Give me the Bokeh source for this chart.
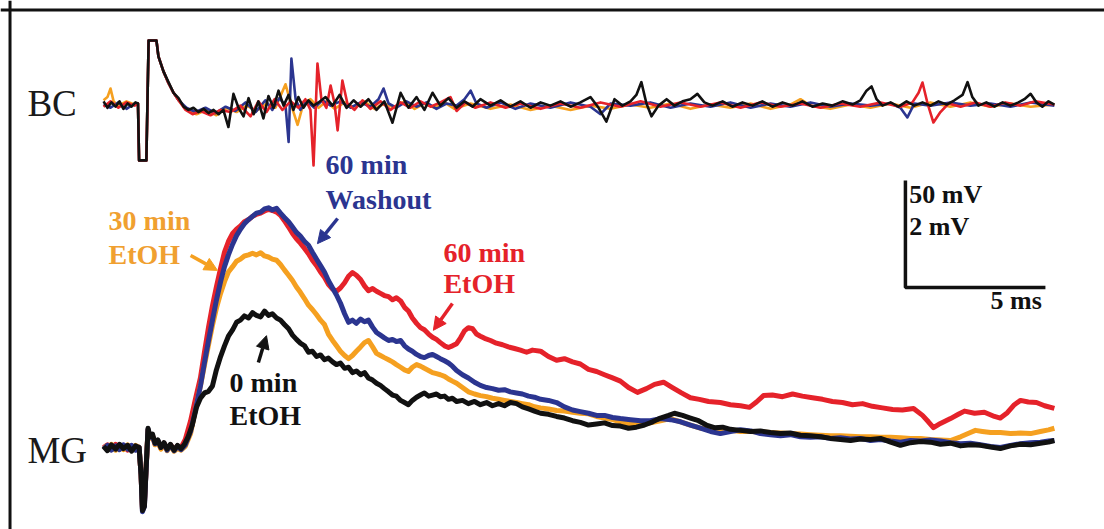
from bokeh.plotting import figure
from bokeh.models import Range1d, Span, Arrow, NormalHead
from bokeh.core.properties import value
from bokeh.embed import file_html
from bokeh.resources import INLINE

# ---------------- data: time (ms, stimulus at 0) and voltage ----------------
# MG field potentials (mV)
mg_black = [(-1.32, 0.02), (-1.18, -0.06), (-1.04, 0.05), (-0.89, -0.03), (-0.75, 0.06), (-0.61, -0.02),
            (-0.46, 0.04), (-0.32, -0.07), (-0.18, 0.03), (-0.05, 0.0), (0.02, -0.5), (0.07, -1.18),
            (0.14, -1.1), (0.2, -0.4), (0.27, 0.36), (0.34, 0.2), (0.43, 0.25), (0.52, 0.08), (0.62, 0.14),
            (0.73, 0.0), (0.84, 0.09), (0.95, -0.03), (1.07, 0.06), (1.2, -0.05), (1.32, 0.04), (1.45, -0.02),
            (1.57, 0.06), (1.7, 0.2), (1.85, 0.42), (2.0, 0.75), (2.14, 0.92), (2.29, 1.02), (2.43, 1.05),
            (2.57, 1.15), (2.71, 1.45), (2.86, 1.7), (3.0, 1.9), (3.14, 2.08), (3.29, 2.2), (3.43, 2.34),
            (3.57, 2.38), (3.71, 2.46), (3.86, 2.42), (4.0, 2.52), (4.14, 2.47), (4.29, 2.44), (4.43, 2.55),
            (4.57, 2.47), (4.71, 2.5), (4.86, 2.42), (5.0, 2.38), (5.14, 2.3), (5.29, 2.22), (5.43, 2.1),
            (5.57, 2.02), (5.71, 1.95), (5.86, 1.9), (6.0, 1.78), (6.14, 1.8), (6.29, 1.7), (6.43, 1.73),
            (6.57, 1.64), (6.71, 1.67), (6.86, 1.6), (7.0, 1.55), (7.14, 1.58), (7.29, 1.48), (7.43, 1.5),
            (7.57, 1.4), (7.71, 1.43), (7.86, 1.36), (8.0, 1.4), (8.14, 1.3), (8.29, 1.26), (8.43, 1.2),
            (8.57, 1.16), (8.71, 1.1), (8.86, 1.04), (9.0, 0.98), (9.14, 0.96), (9.29, 0.88), (9.43, 0.84),
            (9.57, 0.8), (9.71, 0.88), (9.86, 0.94), (10.0, 0.98), (10.14, 1.02), (10.29, 0.96), (10.43, 0.98),
            (10.57, 1.0), (10.71, 0.95), (10.86, 0.96), (11.0, 0.9), (11.14, 0.92), (11.29, 0.86), (11.5, 0.88),
            (11.71, 0.82), (11.93, 0.86), (12.14, 0.8), (12.36, 0.84), (12.57, 0.78), (12.79, 0.82), (13.0, 0.78),
            (13.21, 0.84), (13.43, 0.82), (13.64, 0.76), (13.86, 0.72), (14.07, 0.68), (14.29, 0.64),
            (14.57, 0.62), (14.86, 0.58), (15.14, 0.55), (15.43, 0.5), (15.71, 0.47), (16.0, 0.42),
            (16.29, 0.44), (16.57, 0.46), (16.86, 0.41), (17.14, 0.4), (17.43, 0.36), (17.71, 0.38), (18.0, 0.42),
            (18.29, 0.48), (18.57, 0.55), (18.86, 0.6), (19.07, 0.64), (19.36, 0.6), (19.64, 0.55), (19.93, 0.5),
            (20.21, 0.42), (20.5, 0.37), (20.79, 0.38), (21.07, 0.34), (21.43, 0.32), (21.79, 0.3), (22.14, 0.31),
            (22.5, 0.28), (22.86, 0.26), (23.21, 0.27), (23.57, 0.23), (23.93, 0.22), (24.29, 0.2), (24.64, 0.17),
            (25.0, 0.15), (25.36, 0.13), (25.71, 0.16), (26.07, 0.15), (26.43, 0.17), (26.79, 0.1), (27.14, 0.04),
            (27.5, 0.09), (27.86, 0.11), (28.21, 0.1), (28.57, 0.06), (28.93, 0.08), (29.29, 0.03), (29.64, 0.05),
            (30.0, 0.04), (30.36, 0.01), (30.71, -0.02), (31.07, 0.03), (31.43, 0.06), (31.79, 0.05), (32.14, 0.08),
            (32.43, 0.1), (32.64, 0.13)]

mg_red = [(-1.32, 0.0), (-1.18, 0.05), (-1.04, -0.04), (-0.89, 0.06), (-0.75, -0.03), (-0.61, 0.04),
          (-0.46, -0.05), (-0.32, 0.03), (-0.18, -0.04), (-0.05, 0.0), (0.02, -0.5), (0.07, -1.15), (0.14, -1.05),
          (0.2, -0.4), (0.27, 0.33), (0.34, 0.18), (0.43, 0.22), (0.52, 0.06), (0.62, 0.12), (0.73, -0.02),
          (0.84, 0.08), (0.95, -0.04), (1.07, 0.05), (1.2, -0.04), (1.32, 0.03), (1.45, 0.0), (1.6, 0.15),
          (1.79, 0.5), (1.96, 0.9), (2.14, 1.3), (2.29, 1.8), (2.43, 2.25), (2.57, 2.65), (2.71, 3.0),
          (2.86, 3.35), (3.0, 3.65), (3.14, 3.85), (3.29, 4.0), (3.43, 4.08), (3.57, 4.14), (3.71, 4.22),
          (3.86, 4.26), (4.0, 4.32), (4.14, 4.36), (4.29, 4.38), (4.43, 4.42), (4.57, 4.45), (4.71, 4.43),
          (4.86, 4.4), (5.0, 4.34), (5.14, 4.24), (5.29, 4.12), (5.43, 4.0), (5.57, 3.9), (5.71, 3.82),
          (5.86, 3.72), (6.0, 3.62), (6.14, 3.5), (6.29, 3.4), (6.43, 3.28), (6.57, 3.18), (6.71, 3.05),
          (6.86, 2.96), (7.0, 2.92), (7.14, 2.98), (7.29, 3.08), (7.43, 3.2), (7.57, 3.27), (7.71, 3.22),
          (7.86, 3.14), (8.0, 3.02), (8.14, 2.93), (8.29, 2.97), (8.43, 2.92), (8.57, 2.88), (8.71, 2.84),
          (8.86, 2.82), (9.0, 2.76), (9.14, 2.8), (9.29, 2.74), (9.43, 2.62), (9.57, 2.55), (9.71, 2.42),
          (9.86, 2.32), (10.0, 2.24), (10.14, 2.2), (10.29, 2.12), (10.43, 2.06), (10.57, 2.02), (10.71, 1.96),
          (10.86, 1.9), (11.0, 1.87), (11.14, 1.9), (11.29, 1.94), (11.43, 2.05), (11.57, 2.18), (11.71, 2.24),
          (11.86, 2.22), (12.0, 2.12), (12.14, 2.08), (12.29, 2.04), (12.5, 2.0), (12.71, 1.95), (12.93, 1.92),
          (13.14, 1.88), (13.36, 1.85), (13.57, 1.82), (13.79, 1.78), (14.0, 1.82), (14.29, 1.8), (14.57, 1.7),
          (14.86, 1.63), (15.14, 1.66), (15.43, 1.6), (15.71, 1.56), (16.0, 1.46), (16.29, 1.42), (16.57, 1.36),
          (16.86, 1.3), (17.14, 1.24), (17.43, 1.12), (17.75, 1.03), (18.07, 1.1), (18.36, 1.18), (18.68, 1.22),
          (19.0, 1.12), (19.32, 1.02), (19.64, 0.93), (19.96, 0.9), (20.29, 0.86), (20.71, 0.84), (21.07, 0.8),
          (21.43, 0.78), (21.75, 0.75), (22.0, 0.85), (22.25, 0.97), (22.57, 0.98), (22.93, 0.95), (23.29, 1.0),
          (23.64, 0.96), (24.0, 0.93), (24.36, 0.9), (24.71, 0.86), (25.07, 0.84), (25.43, 0.8), (25.79, 0.82),
          (26.14, 0.77), (26.5, 0.74), (26.86, 0.71), (27.21, 0.7), (27.61, 0.73), (27.93, 0.6), (28.14, 0.48),
          (28.32, 0.37), (28.57, 0.45), (28.93, 0.54), (29.21, 0.62), (29.43, 0.68), (29.79, 0.64), (30.14, 0.66),
          (30.5, 0.58), (30.71, 0.55), (30.96, 0.65), (31.21, 0.8), (31.43, 0.88), (31.71, 0.85), (32.0, 0.84),
          (32.29, 0.78), (32.64, 0.73)]

mg_blue = [(-1.32, -0.03), (-1.18, 0.04), (-1.04, -0.05), (-0.89, 0.03), (-0.75, -0.04), (-0.61, 0.05),
           (-0.46, -0.03), (-0.32, 0.04), (-0.18, -0.05), (-0.05, 0.0), (0.02, -0.5), (0.07, -1.2), (0.14, -1.1),
           (0.2, -0.42), (0.27, 0.34), (0.34, 0.19), (0.43, 0.2), (0.52, 0.07), (0.62, 0.13), (0.73, 0.0),
           (0.84, 0.07), (0.95, -0.05), (1.07, 0.04), (1.2, -0.06), (1.32, 0.02), (1.45, -0.04), (1.6, 0.05),
           (1.79, 0.3), (1.96, 0.7), (2.14, 1.15), (2.29, 1.6), (2.43, 2.0), (2.57, 2.38), (2.71, 2.75),
           (2.86, 3.1), (3.0, 3.38), (3.14, 3.6), (3.29, 3.8), (3.43, 3.96), (3.57, 4.08), (3.71, 4.18),
           (3.86, 4.26), (4.0, 4.32), (4.14, 4.38), (4.29, 4.4), (4.43, 4.46), (4.57, 4.48), (4.71, 4.44),
           (4.86, 4.47), (5.0, 4.38), (5.14, 4.3), (5.29, 4.22), (5.43, 4.12), (5.57, 4.02), (5.71, 3.95),
           (5.86, 3.85), (6.0, 3.78), (6.14, 3.65), (6.29, 3.52), (6.43, 3.4), (6.57, 3.28), (6.71, 3.12),
           (6.86, 2.98), (7.0, 2.85), (7.14, 2.7), (7.29, 2.5), (7.43, 2.34), (7.57, 2.38), (7.71, 2.32),
           (7.86, 2.4), (8.0, 2.35), (8.14, 2.38), (8.29, 2.25), (8.43, 2.15), (8.57, 2.1), (8.71, 2.05),
           (8.86, 2.0), (9.0, 2.02), (9.14, 1.98), (9.29, 2.0), (9.43, 1.9), (9.57, 1.84), (9.71, 1.8),
           (9.86, 1.74), (10.0, 1.7), (10.14, 1.68), (10.29, 1.72), (10.43, 1.74), (10.57, 1.7), (10.71, 1.66),
           (10.86, 1.62), (11.0, 1.58), (11.14, 1.52), (11.29, 1.44), (11.5, 1.36), (11.71, 1.3), (11.93, 1.22),
           (12.14, 1.16), (12.36, 1.12), (12.57, 1.1), (12.79, 1.07), (13.0, 1.08), (13.21, 1.04), (13.43, 1.02),
           (13.64, 1.0), (13.86, 0.96), (14.07, 0.94), (14.29, 0.9), (14.57, 0.88), (14.86, 0.84), (15.14, 0.76),
           (15.43, 0.7), (15.71, 0.67), (16.0, 0.64), (16.29, 0.6), (16.57, 0.6), (16.86, 0.56), (17.14, 0.54),
           (17.5, 0.52), (17.86, 0.5), (18.21, 0.5), (18.57, 0.54), (18.93, 0.52), (19.29, 0.48), (19.64, 0.42),
           (20.0, 0.36), (20.36, 0.3), (20.71, 0.26), (21.07, 0.3), (21.43, 0.33), (21.79, 0.31), (22.14, 0.26),
           (22.5, 0.24), (22.86, 0.22), (23.21, 0.24), (23.57, 0.2), (23.93, 0.19), (24.29, 0.2), (24.64, 0.17),
           (25.0, 0.18), (25.36, 0.16), (25.71, 0.17), (26.07, 0.13), (26.43, 0.15), (26.79, 0.12), (27.14, 0.1),
           (27.5, 0.13), (27.86, 0.12), (28.21, 0.14), (28.57, 0.12), (28.93, 0.09), (29.29, 0.07), (29.64, 0.08),
           (30.0, 0.05), (30.36, 0.02), (30.71, 0.0), (31.07, 0.04), (31.43, 0.07), (31.79, 0.09), (32.14, 0.1),
           (32.43, 0.12), (32.64, 0.13)]

mg_orange = [(-1.32, 0.04), (-1.18, -0.03), (-1.04, 0.06), (-0.89, -0.05), (-0.75, 0.02), (-0.61, -0.04),
             (-0.46, 0.05), (-0.32, -0.02), (-0.18, 0.04), (-0.05, 0.0), (0.02, -0.5), (0.07, -1.12), (0.14, -1.0),
             (0.2, -0.38), (0.27, 0.32), (0.34, 0.17), (0.43, 0.21), (0.52, 0.05), (0.62, 0.1), (0.73, -0.03),
             (0.84, 0.06), (0.95, -0.06), (1.07, 0.03), (1.2, -0.07), (1.32, -0.02), (1.45, -0.05), (1.6, 0.02),
             (1.79, 0.26), (1.96, 0.7), (2.14, 1.15), (2.29, 1.55), (2.43, 1.92), (2.57, 2.28), (2.71, 2.6),
             (2.86, 2.88), (3.0, 3.1), (3.14, 3.28), (3.29, 3.38), (3.43, 3.48), (3.57, 3.52), (3.71, 3.58),
             (3.86, 3.6), (4.0, 3.63), (4.14, 3.6), (4.29, 3.64), (4.43, 3.58), (4.57, 3.56), (4.71, 3.52),
             (4.86, 3.5), (5.0, 3.42), (5.14, 3.32), (5.29, 3.22), (5.43, 3.12), (5.57, 3.0), (5.71, 2.9),
             (5.86, 2.78), (6.0, 2.66), (6.14, 2.58), (6.29, 2.48), (6.43, 2.38), (6.57, 2.3), (6.71, 2.12),
             (6.86, 2.0), (7.0, 1.9), (7.14, 1.8), (7.29, 1.72), (7.43, 1.66), (7.57, 1.72), (7.71, 1.8),
             (7.86, 1.88), (8.0, 1.96), (8.14, 2.0), (8.29, 1.88), (8.43, 1.76), (8.57, 1.72), (8.71, 1.68),
             (8.86, 1.64), (9.0, 1.6), (9.14, 1.55), (9.29, 1.5), (9.43, 1.45), (9.57, 1.42), (9.71, 1.5),
             (9.86, 1.55), (10.0, 1.52), (10.14, 1.48), (10.29, 1.44), (10.43, 1.4), (10.57, 1.38), (10.71, 1.36),
             (10.86, 1.33), (11.0, 1.28), (11.14, 1.24), (11.29, 1.2), (11.5, 1.12), (11.71, 1.04), (11.93, 1.0),
             (12.14, 0.97), (12.36, 0.95), (12.57, 0.92), (12.79, 0.9), (13.0, 0.88), (13.21, 0.86), (13.43, 0.84),
             (13.64, 0.82), (13.86, 0.8), (14.07, 0.76), (14.29, 0.74), (14.57, 0.72), (14.86, 0.69), (15.14, 0.68),
             (15.43, 0.66), (15.71, 0.64), (16.0, 0.63), (16.29, 0.58), (16.57, 0.55), (16.86, 0.52), (17.14, 0.48),
             (17.5, 0.44), (17.86, 0.42), (18.21, 0.46), (18.57, 0.5), (18.93, 0.54), (19.29, 0.48), (19.64, 0.42),
             (20.0, 0.36), (20.36, 0.34), (20.71, 0.33), (21.07, 0.32), (21.43, 0.3), (21.79, 0.3), (22.14, 0.29),
             (22.5, 0.28), (22.86, 0.27), (23.21, 0.26), (23.57, 0.25), (23.93, 0.24), (24.29, 0.23), (24.64, 0.22),
             (25.0, 0.22), (25.36, 0.21), (25.71, 0.2), (26.07, 0.2), (26.43, 0.19), (26.79, 0.19), (27.14, 0.18),
             (27.5, 0.17), (27.86, 0.17), (28.21, 0.15), (28.57, 0.14), (28.93, 0.13), (29.29, 0.2), (29.64, 0.28),
             (29.82, 0.32), (30.07, 0.3), (30.36, 0.28), (30.71, 0.28), (31.07, 0.26), (31.43, 0.27), (31.79, 0.26),
             (32.14, 0.3), (32.43, 0.33), (32.64, 0.36)]

# BC recordings (mV)
bc_black = [(-1.32, 1.0), (-1.18, -2.0), (-1.04, 0.5), (-0.89, -1.5), (-0.75, 1.0), (-0.61, -2.5), (-0.46, 0.0),
            (-0.32, -1.5), (-0.18, 0.5), (-0.09, 0.0), (-0.05, -26.6), (0.21, -26.6), (0.29, 29.4), (0.57, 29.4),
            (0.64, 22.0), (0.82, 15.0), (1.0, 10.0), (1.18, 5.0), (1.36, 2.5), (1.54, -1.5), (1.71, -3.0),
            (1.89, -2.0), (2.07, -4.0), (2.25, -2.5), (2.43, -4.5), (2.61, -3.0), (2.79, -5.0), (2.96, -3.0),
            (3.14, -11.0), (3.32, 4.5), (3.5, -2.0), (3.68, -6.0), (3.86, 2.5), (4.04, -5.0), (4.21, 1.0),
            (4.39, -7.0), (4.57, 3.5), (4.75, -2.0), (4.93, 6.0), (5.11, -1.0), (5.29, 4.0), (5.46, -3.0),
            (5.64, 3.0), (5.82, -2.0), (6.0, 1.5), (6.18, -1.0), (6.36, 0.5), (6.61, 3.0), (6.86, -1.0),
            (7.11, 4.0), (7.36, -2.0), (7.61, 1.5), (7.86, -1.5), (8.14, 2.0), (8.43, -3.0), (8.71, 1.0),
            (9.0, -9.0), (9.29, 5.0), (9.57, -2.0), (9.86, 3.0), (10.14, -3.0), (10.43, 5.0), (10.71, -1.0),
            (11.0, 2.5), (11.29, -2.0), (11.57, 1.0), (11.86, -1.5), (12.14, 2.0), (12.5, -1.0), (12.86, 1.5),
            (13.21, -1.5), (13.57, 1.0), (13.93, -2.0), (14.29, 0.5), (14.64, -1.0), (15.0, 1.0), (15.36, -1.5),
            (15.71, 0.5), (16.07, 3.0), (16.36, -2.0), (16.64, -8.5), (16.93, 2.0), (17.21, -1.0), (17.5, 1.0),
            (17.71, 4.0), (17.89, 10.0), (18.07, 0.0), (18.25, -6.0), (18.5, -1.0), (18.79, 2.0), (19.07, -1.0),
            (19.36, 1.0), (19.64, 2.0), (19.89, 4.5), (20.14, 0.5), (20.43, -1.0), (20.79, 1.0), (21.14, -1.5),
            (21.5, 0.5), (21.86, -1.0), (22.21, 1.0), (22.57, -1.5), (22.93, 0.5), (23.29, -1.0), (23.64, 1.0),
            (24.0, -1.5), (24.36, 0.0), (24.71, -1.0), (25.07, 1.0), (25.43, -0.5), (25.71, 1.5), (25.93, 6.0),
            (26.11, 8.0), (26.29, 2.0), (26.5, -1.0), (26.79, 0.5), (27.07, -1.5), (27.36, 1.0), (27.64, -1.0),
            (27.93, 0.5), (28.21, -1.0), (28.5, 1.0), (28.79, -0.5), (29.07, 1.5), (29.36, 4.0), (29.54, 10.0),
            (29.71, 3.0), (29.93, -1.0), (30.21, 0.5), (30.5, -1.5), (30.79, 0.5), (31.07, -1.0), (31.36, 0.5),
            (31.57, 2.0), (31.79, 4.5), (32.0, 0.5), (32.21, -1.5), (32.43, 1.0), (32.64, -0.5)]

bc_red = [(-1.32, -1.5), (-1.07, 1.0), (-0.79, -2.0), (-0.5, 0.5), (-0.21, -1.0), (-0.09, 0.0), (-0.05, -26.6),
          (0.21, -26.6), (0.29, 29.4), (0.57, 29.4), (0.64, 22.0), (0.82, 15.0), (1.0, 9.5), (1.18, 5.0),
          (1.36, 1.5), (1.61, -3.0), (1.86, -5.0), (2.14, -3.5), (2.5, -5.5), (2.86, -3.0), (3.21, -4.0),
          (3.57, -1.0), (3.93, -6.0), (4.21, 1.0), (4.5, -4.0), (4.79, 2.0), (5.07, -3.0), (5.36, 1.0),
          (5.64, -2.0), (5.89, 2.0), (6.07, -3.0), (6.18, -29.0), (6.32, 18.7), (6.46, 2.0), (6.64, -2.0),
          (6.79, 8.4), (6.93, 0.0), (7.04, -12.6), (7.21, 10.7), (7.39, 0.0), (7.64, -3.0), (7.93, 1.5),
          (8.21, -2.5), (8.57, 1.0), (8.93, -3.0), (9.29, 0.5), (9.64, -2.0), (10.0, 1.0), (10.36, -1.5),
          (10.71, 0.5), (11.07, 3.0), (11.29, -3.5), (11.61, 0.5), (11.96, -2.0), (12.5, 0.5), (13.04, -2.0),
          (13.57, 0.0), (14.29, -2.5), (15.0, 0.0), (15.71, -2.0), (16.43, 0.5), (17.14, -1.5), (17.86, 1.0),
          (18.57, -1.5), (19.29, 0.5), (20.0, -1.5), (20.71, 0.5), (21.43, -2.0), (22.14, 0.5), (22.86, -1.5),
          (23.57, 0.0), (24.29, -2.0), (25.0, 0.0), (25.71, -1.5), (26.43, 0.5), (27.14, -1.5), (27.57, 0.5),
          (27.79, 5.0), (27.93, 9.8), (28.11, 0.0), (28.32, -8.9), (28.57, -4.0), (28.86, 0.0), (29.29, -1.5),
          (29.82, 0.5), (30.36, -1.5), (30.89, 0.5), (31.43, -1.0), (31.96, 1.0), (32.64, -0.5)]

bc_blue = [(-1.32, -0.5), (-1.07, -2.0), (-0.79, 0.5), (-0.5, -2.5), (-0.21, 0.0), (-0.09, 0.0), (-0.05, -26.6),
           (0.21, -26.6), (0.29, 29.4), (0.57, 29.4), (0.64, 22.0), (0.82, 15.0), (1.0, 9.5), (1.18, 5.0),
           (1.36, 1.5), (1.64, -2.0), (1.96, -4.0), (2.32, -2.0), (2.68, -4.5), (3.04, -1.5), (3.39, -3.5),
           (3.75, 0.5), (4.11, -4.0), (4.46, 1.5), (4.71, -3.0), (4.96, 2.5), (5.18, -1.0), (5.29, -18.0),
           (5.39, 21.0), (5.54, 2.0), (5.71, -3.0), (5.93, 1.0), (6.21, -2.0), (6.5, 1.5), (6.79, -1.0),
           (7.14, 1.0), (7.5, -2.0), (7.86, 0.5), (8.21, -1.5), (8.5, 2.0), (8.68, 7.0), (8.86, 0.0),
           (9.14, -2.0), (9.5, 1.0), (9.86, -1.5), (10.21, 0.5), (10.57, -2.5), (10.93, 0.0), (11.29, -1.0),
           (11.57, 2.0), (11.79, 6.0), (12.0, 0.0), (12.36, -2.0), (12.86, 0.5), (13.39, -2.5), (13.93, 0.0),
           (14.64, -2.0), (15.36, 0.5), (16.07, -1.5), (16.43, -5.0), (16.79, 0.0), (17.5, -1.0), (18.21, 0.5),
           (18.93, -2.0), (19.64, 0.0), (20.36, -1.5), (21.07, 0.5), (21.79, -2.0), (22.5, 0.0), (23.21, -1.5),
           (23.93, 0.5), (24.64, -1.5), (25.36, 0.0), (26.07, -1.0), (26.79, 0.0), (27.14, -2.0), (27.39, -6.5),
           (27.64, 0.0), (28.21, -1.0), (28.93, 0.5), (29.64, -1.0), (30.36, 0.0), (31.07, -1.5), (31.79, 0.5),
           (32.64, -1.0)]

bc_orange = [(-1.32, 1.5), (-1.18, 3.0), (-1.07, 7.0), (-0.96, 1.0), (-0.79, -1.0), (-0.5, 1.0), (-0.21, -0.5),
             (-0.09, 0.0), (-0.05, -26.6), (0.21, -26.6), (0.29, 29.4), (0.57, 29.4), (0.64, 22.0), (0.82, 15.0),
             (1.0, 9.5), (1.18, 5.0), (1.36, 1.5), (1.64, -3.0), (2.0, -5.0), (2.36, -3.0), (2.71, -5.5),
             (3.07, -2.0), (3.43, -4.0), (3.79, -1.0), (4.14, -3.5), (4.5, 0.0), (4.82, -2.0), (5.18, 9.0),
             (5.39, -1.0), (5.61, -10.0), (5.82, 0.0), (6.07, 2.0), (6.36, -2.0), (6.64, 1.0), (6.93, -2.5),
             (7.29, 0.5), (7.64, -2.0), (8.0, 1.0), (8.36, -2.5), (8.71, 0.0), (9.07, -2.0), (9.43, 1.0),
             (9.79, -2.5), (10.14, 0.0), (10.5, -2.0), (10.86, 0.5), (11.21, -2.5), (11.79, 0.0), (12.5, -2.5),
             (13.21, -0.5), (13.93, -3.0), (14.64, -1.0), (15.36, -3.0), (16.07, -1.0), (16.79, -2.5), (17.5, -0.5),
             (18.21, -2.0), (18.93, 0.0), (19.64, -2.5), (20.36, -0.5), (21.07, -2.0), (21.79, 0.0), (22.5, -2.5),
             (23.21, -0.5), (23.57, 2.0), (23.93, -1.0), (24.64, -2.5), (25.36, -0.5), (26.07, -2.0), (26.79, 0.0),
             (27.5, -2.0), (28.21, 0.5), (28.93, -1.5), (29.64, 0.5), (30.36, -1.5), (31.07, 0.0), (31.79, -1.5),
             (32.64, -0.5)]

# scale bar: 50 mV (BC) / 2 mV (MG) vertical, 5 ms horizontal
scale_ms = 5
scale_mg_mv = 2
scale_bc_mv = 50
bc_offset_mv = 6.43          # vertical offset of the BC row, in MG mV units

colors = {"black": "#111111", "red": "#e5222a", "blue": "#2b3590", "orange": "#f5a020"}

# ---------------- figure ----------------
x0, x1 = -5.0, 34.43
y0, y1 = -1.533, 8.355
p = figure(width=1104, height=529, x_range=Range1d(x0, x1), y_range=Range1d(y0, y1),
           output_backend="svg", toolbar_location=None, min_border=0,
           x_axis_location=None, y_axis_location=None)
p.grid.visible = False
p.outline_line_color = None
p.background_fill_color = "white"
p.border_fill_color = "white"

# frame lines (top and left) of the figure panel
p.add_layout(Span(location=8.178, dimension="width", line_color="#111111", line_width=3))
p.add_layout(Span(location=-4.66, dimension="height", line_color="#111111", line_width=3))

bc_gain = scale_mg_mv / scale_bc_mv

def bc_xy(pairs):
    xs = [a for a, b in pairs]
    ys = [bc_offset_mv + b * bc_gain for a, b in pairs]
    return xs, ys

def mg_xy(pairs):
    return [a for a, b in pairs], [b for a, b in pairs]

# BC traces
for name, tr in [("orange", bc_orange), ("blue", bc_blue), ("red", bc_red), ("black", bc_black)]:
    xs, ys = bc_xy(tr)
    p.line(xs, ys, line_color=colors[name], line_width=2.6, line_join="round")

# MG traces
for name, tr in [("red", mg_red), ("orange", mg_orange), ("blue", mg_blue), ("black", mg_black)]:
    xs, ys = mg_xy(tr)
    p.line(xs, ys, line_color=colors[name], line_width=5, line_join="round")

# scale bar
bar_t, bar_v = 27.32, 2.99
p.line([bar_t, bar_t, bar_t + scale_ms], [bar_v + scale_mg_mv, bar_v, bar_v],
       line_color="#111111", line_width=3.5)

serif = value("Liberation Serif")

def label(x, y, txt, color, size="28px", style="bold"):
    p.text(x=[x], y=[y], text=[txt], text_color=color, text_font=serif, text_font_size=size,
           text_font_style=style, text_baseline="alphabetic", text_align="left")

label(-4.04, 6.43, "BC", "#1a1a1a", "37px", "normal")
label(-4.04, -0.06, "MG", "#1a1a1a", "37px", "normal")

label(6.61, 5.29, "60 min", colors["blue"])
label(6.61, 4.64, "Washout", colors["blue"])
label(-1.14, 4.24, "30 min", "#f0a030")
label(-1.14, 3.61, "EtOH", "#f0a030")
label(10.82, 3.65, "60 min", colors["red"])
label(10.82, 3.07, "EtOH", colors["red"])
label(3.18, 1.22, "0 min", "#111111")
label(3.18, 0.60, "EtOH", "#111111")

label(27.46, 4.73, "50 mV", "#111111", "26px")
label(27.46, 4.13, "2 mV", "#111111", "26px")
label(30.36, 2.75, "5 ms", "#111111", "26px")

# arrows
def arrow(xs, ys, xe, ye, color):
    p.add_layout(Arrow(end=NormalHead(size=13, fill_color=color, line_color=color),
                       x_start=xs, y_start=ys, x_end=xe, y_end=ye,
                       line_color=color, line_width=3.5))

arrow(7.04, 4.28, 6.32, 3.81, colors["blue"])
arrow(1.79, 3.59, 2.75, 3.31, colors["orange"])
arrow(11.14, 2.69, 10.46, 2.19, colors["red"])
arrow(4.21, 1.59, 4.50, 2.09, "#111111")

open("out.html", "w").write(file_html(p, INLINE))
